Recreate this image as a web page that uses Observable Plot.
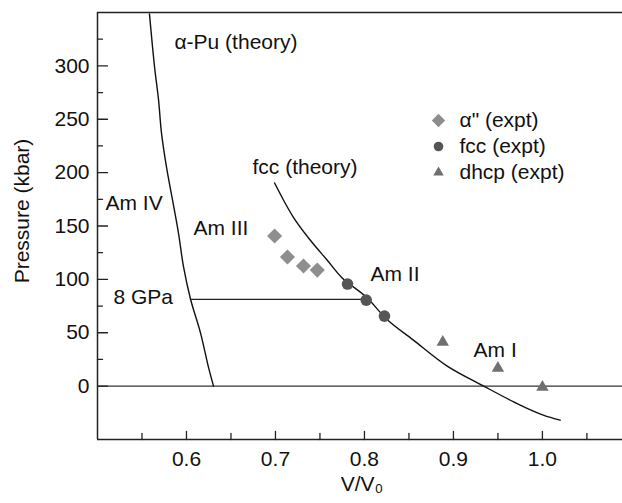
<!DOCTYPE html>
<html>
<head>
<meta charset="utf-8">
<script src="https://cdn.jsdelivr.net/npm/d3@7"></script>
<script src="https://cdn.jsdelivr.net/npm/@observablehq/plot@0.6"></script>
<style>
  html, body { margin: 0; padding: 0; background: #fff; }
  svg { display: block; }
</style>
</head>
<body>
<div id="chart"></div>
<script>
// ---- data ----
const vDomain = [0.5, 1.09];
const pDomain = [-50, 350];
const vTicks = [0.6, 0.7, 0.8, 0.9, 1.0];
const vMinorTicks = [0.55, 0.65, 0.75, 0.85, 0.95, 1.05];
const pTicks = [0, 50, 100, 150, 200, 250, 300];
const pMinorTicks = [25, 75, 125, 175, 225, 275, 325];

// alpha-Pu (theory) curve
const alphaPuV = [0.5584, 0.5641, 0.5686, 0.5719, 0.5775, 0.5843, 0.5910, 0.5967, 0.6045, 0.6158, 0.6247, 0.6304];
const alphaPuP = [348.7, 299.1, 268.1, 237.2, 205.3, 174.4, 143.4, 111.6, 81.6, 49.7, 17.8, 0];

// fcc (theory) curve
const fccV = [0.699, 0.720, 0.739, 0.758, 0.775, 0.802, 0.826, 0.855, 0.893, 0.934, 0.975, 1.001, 1.020];
const fccP = [190.3, 158.4, 136.9, 118.1, 101.3, 83.4, 61.9, 43.1, 18.7, 0, -17.8, -27.2, -31.9];

// experimental points
const alphaExptV = [0.699, 0.7135, 0.7315, 0.747];
const alphaExptP = [140.6, 121, 112.5, 108.7];
const fccExptV = [0.781, 0.802, 0.8225];
const fccExptP = [95.6, 80.6, 65.6];
const dhcpExptV = [0.888, 0.950, 1.000];
const dhcpExptP = [41.2, 16.9, -0.9];

// 8 GPa transition line
const gpaLineV = [0.6045, 0.802];
const gpaLineP = [81.3, 81.3];

// annotations
const labelTexts = ["α-Pu (theory)", "Am IV", "Am III", "fcc (theory)", "8 GPa", "Am II", "Am I"];
const labelV = [0.5865, 0.509, 0.6079, 0.6742, 0.518, 0.8068, 0.9226];
const labelP = [322.5, 171.6, 148.1, 205.3, 83.4, 105, 33.7];

// legend
const legendNames = ['α" (expt)', "fcc (expt)", "dhcp (expt)"];
const legendSymbols = ["diamond2", "circle", "triangle"];
const legendColors = ["#8e8e8e", "#555555", "#707070"];

// ---- build ----
const zip = (xs, ys) => xs.map((x, i) => ({v: x, p: ys[i]}));
const alphaPu = zip(alphaPuV, alphaPuP);
const fccTheory = zip(fccV, fccP);
const alphaExpt = zip(alphaExptV, alphaExptP);
const fccExpt = zip(fccExptV, fccExptP);
const dhcpExpt = zip(dhcpExptV, dhcpExptP);
const gpaLine = zip(gpaLineV, gpaLineP);
const labels = labelTexts.map((t, i) => ({t, v: labelV[i], p: labelP[i]}));

const tickShape = {draw(ctx, l) { ctx.moveTo(0, 0); ctx.lineTo(0, -l); }};
const FONT = "Liberation Sans, Arial, Helvetica, sans-serif";
const FS = 21;
const legendR = [6, 4.8, 3.9];

const legendMarks = legendNames.flatMap((name, i) => [
  Plot.dot([name], {frameAnchor: "top-left", dx: 341, dy: 108 + 26 * i,
    symbol: legendSymbols[i], r: legendR[i], fill: legendColors[i], stroke: "none"}),
  Plot.text([name], {frameAnchor: "top-left", dx: 362, dy: 108 + 26 * i, text: d => d,
    textAnchor: "start", lineAnchor: "middle", fontSize: FS, fill: "#111"})
]);

const chart = Plot.plot({
  width: 622,
  height: 503,
  marginLeft: 97,
  marginRight: 0,
  marginTop: 12,
  marginBottom: 64,
  style: {fontFamily: FONT, fontSize: FS + "px", background: "#fff", color: "#111"},
  x: {domain: vDomain, axis: null},
  y: {domain: pDomain, axis: null},
  marks: [
    // frame (left, top, bottom)
    Plot.ruleX([vDomain[0]], {stroke: "#222", strokeWidth: 1.5}),
    Plot.ruleY([pDomain[1]], {stroke: "#222", strokeWidth: 1.5}),
    Plot.ruleY([pDomain[0]], {stroke: "#222", strokeWidth: 1.5}),
    // zero pressure line
    Plot.ruleY([0], {stroke: "#333", strokeWidth: 1.2}),
    // inward ticks
    Plot.vector(pTicks, {y: d => d, frameAnchor: "left", rotate: 90, length: 10, anchor: "start", shape: tickShape, stroke: "#222", strokeWidth: 1.3}),
    Plot.vector(pMinorTicks, {y: d => d, frameAnchor: "left", rotate: 90, length: 5, anchor: "start", shape: tickShape, stroke: "#222", strokeWidth: 1.3}),
    Plot.vector(vTicks, {x: d => d, frameAnchor: "bottom", rotate: 0, length: 8, anchor: "start", shape: tickShape, stroke: "#222", strokeWidth: 1.3}),
    Plot.vector(vMinorTicks, {x: d => d, frameAnchor: "bottom", rotate: 0, length: 6, anchor: "start", shape: tickShape, stroke: "#222", strokeWidth: 1.3}),
    // tick labels
    Plot.axisY({ticks: pTicks, tickSize: 0, tickPadding: 8, label: null, fontSize: FS, fill: "#111"}),
    Plot.axisX({ticks: vTicks, tickSize: 0, tickPadding: 12, label: null, fontSize: FS, fill: "#111", tickFormat: d => d.toFixed(1)}),
    // axis titles
    Plot.text(["Pressure (kbar)"], {frameAnchor: "left", dx: -75, dy: -15, rotate: -90, textAnchor: "middle", lineAnchor: "middle", text: d => d, fontSize: FS, fill: "#111"}),
    Plot.text(["V/V₀"], {frameAnchor: "bottom", dx: 2, dy: 51, text: d => d, fontSize: FS, fill: "#111"}),
    // curves
    Plot.line(alphaPu, {x: "v", y: "p", curve: "catmull-rom", stroke: "#111", strokeWidth: 1.4}),
    Plot.line(fccTheory, {x: "v", y: "p", curve: "catmull-rom", stroke: "#111", strokeWidth: 1.4}),
    Plot.line(gpaLine, {x: "v", y: "p", stroke: "#222", strokeWidth: 1.3}),
    // experiments
    Plot.dot(alphaExpt, {x: "v", y: "p", symbol: "diamond2", r: 6.8, fill: "#8e8e8e", stroke: "none"}),
    Plot.dot(fccExpt, {x: "v", y: "p", symbol: "circle", r: 5.8, fill: "#555555", stroke: "none"}),
    Plot.dot(dhcpExpt, {x: "v", y: "p", symbol: "triangle", r: 4.6, fill: "#707070", stroke: "none"}),
    // annotations
    Plot.text(labels, {x: "v", y: "p", text: "t", textAnchor: "start", lineAnchor: "middle", fontSize: FS, fill: "#111"}),
    ...legendMarks
  ]
});
document.getElementById("chart").appendChild(chart);
</script>
</body>
</html>
